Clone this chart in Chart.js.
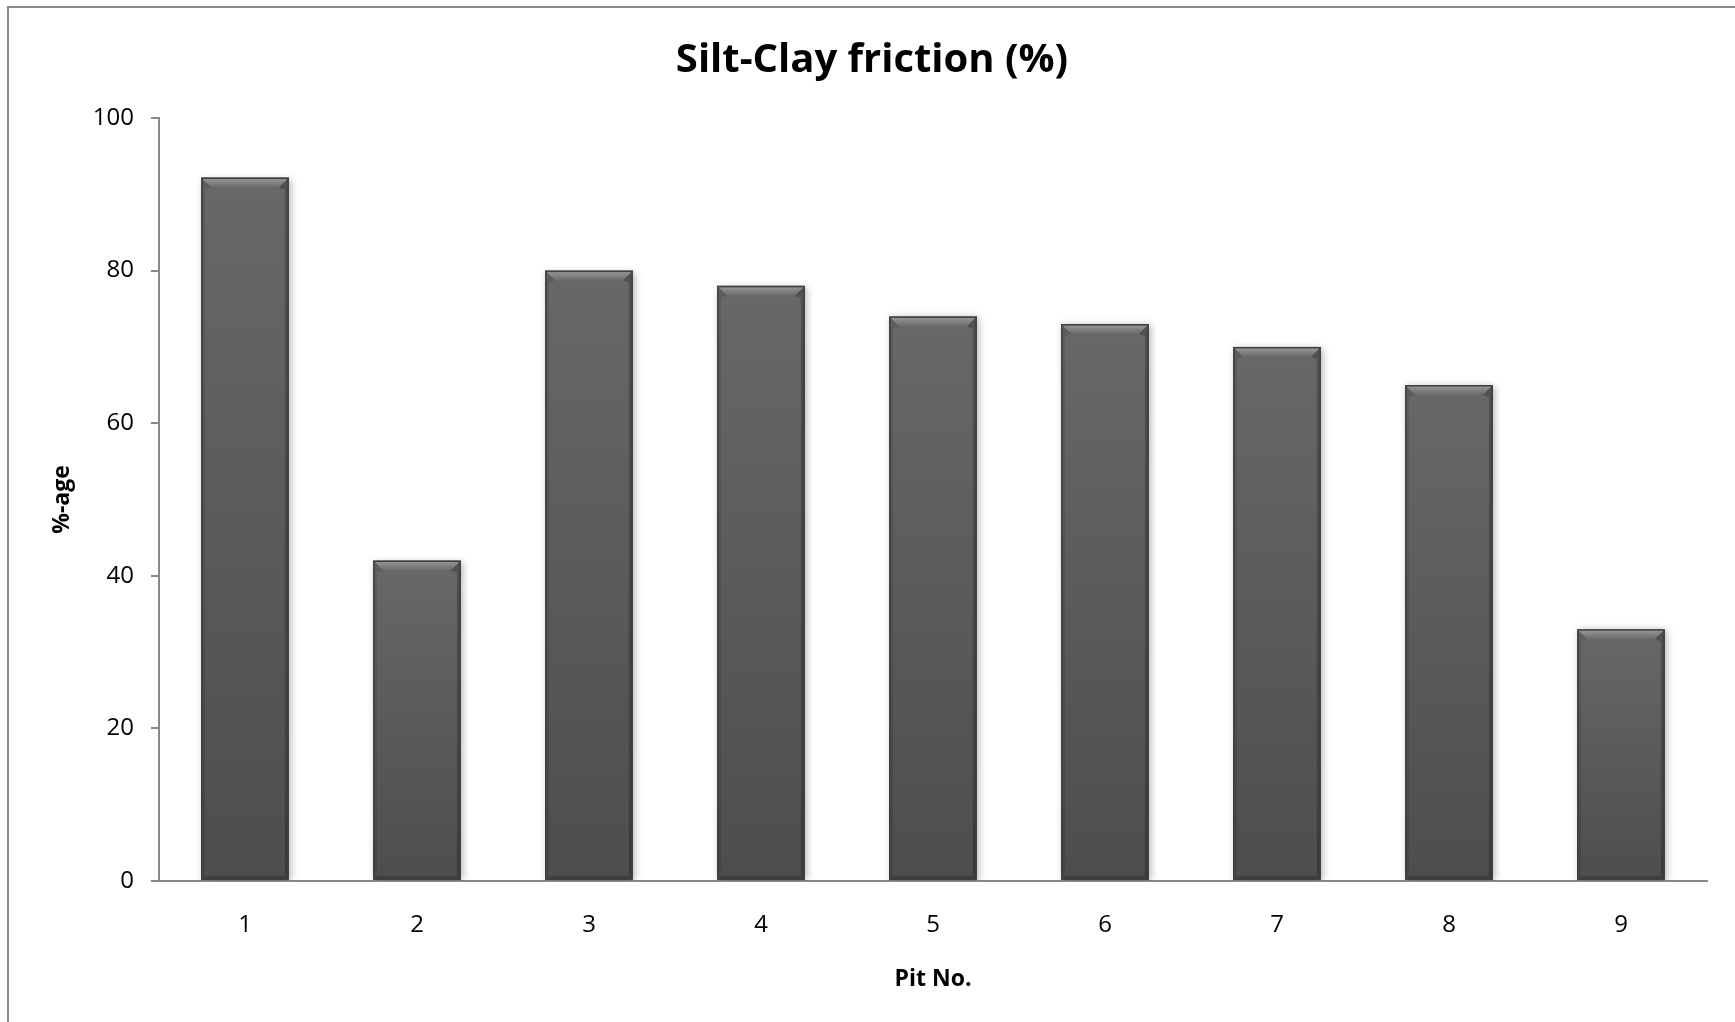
<!DOCTYPE html>
<html>
<head>
<meta charset="utf-8">
<title>Silt-Clay friction (%)</title>
<script src="https://cdn.jsdelivr.net/npm/chart.js@4/dist/chart.umd.min.js"></script>
<style>
  html, body { margin: 0; padding: 0; background: #ffffff; overflow: hidden; }
  #wrap { position: relative; width: 1735px; height: 1022px; }
  #frame {
    position: absolute; left: 7px; top: 6px; width: 1760px; height: 1060px;
    border-left: 2px solid #8a8a8a; border-top: 2px solid #8a8a8a;
    box-sizing: border-box; pointer-events: none;
  }
  canvas { position: absolute; left: 0; top: 0; }
</style>
</head>
<body>
<div id="wrap">
  <div id="frame"></div>
  <canvas id="chart" width="1735" height="1022"></canvas>
</div>
<script>
// Pit numbers and silt-clay fraction per pit
const pitLabels = ['1', '2', '3', '4', '5', '6', '7', '8', '9'];
const siltClayPct = [92.2, 42, 80, 78, 74, 73, 70, 65, 33];
const yTickValues = [0, 20, 40, 60, 80, 100];

const chartTitle = 'Silt-Clay friction (%)';
const xTitle = 'Pit No.';
const yTitle = '%-age';

const AXIS_GREY = '#898989';
const FONT = '"Open Sans", "DejaVu Sans", sans-serif';

// Vertical grey gradient for each bar, from its top down to the baseline
function barFill(ctx) {
  const chart = ctx.chart;
  const ys = chart.scales && chart.scales.y;
  if (!chart.chartArea || !ys || ctx.dataIndex === undefined) return '#5a5a5a';
  const top = ys.getPixelForValue(siltClayPct[ctx.dataIndex]);
  const base = ys.getPixelForValue(0);
  const g = chart.ctx.createLinearGradient(0, top, 0, base);
  g.addColorStop(0, '#686868');
  g.addColorStop(1, '#4d4d4d');
  return g;
}

// Soft drop shadow under the bars
const barShadow = {
  id: 'barShadow',
  beforeDatasetDraw(chart) {
    const c = chart.ctx;
    c.save();
    c.shadowColor = 'rgba(0,0,0,0.28)';
    c.shadowBlur = 7;
    c.shadowOffsetX = 2;
    c.shadowOffsetY = 1;
  },
  afterDatasetDraw(chart) {
    chart.ctx.restore();
  }
};

// Bevelled edges on each bar, placed from the bar elements' own geometry
const barBevel = {
  id: 'barBevel',
  afterDatasetsDraw(chart) {
    const c = chart.ctx;
    const meta = chart.getDatasetMeta(0);
    meta.data.forEach((bar) => {
      const { x, y, base, width } = bar.getProps(['x', 'y', 'base', 'width'], true);
      const l = x - width / 2, r = x + width / 2, t = y, b = base;
      const bv = 10, sv = 4;
      c.save();
      // top facet
      const gt = c.createLinearGradient(0, t, 0, t + bv);
      gt.addColorStop(0, '#9c9c9c');
      gt.addColorStop(0.45, '#858585');
      gt.addColorStop(1, '#6a6a6a');
      c.fillStyle = gt;
      c.beginPath();
      c.moveTo(l, t); c.lineTo(r, t); c.lineTo(r - bv, t + bv); c.lineTo(l + bv, t + bv);
      c.closePath(); c.fill();
      // left facet
      c.fillStyle = 'rgba(0,0,0,0.10)';
      c.beginPath();
      c.moveTo(l, t); c.lineTo(l + bv, t + bv); c.lineTo(l + sv, t + bv + 2);
      c.lineTo(l + sv, b - sv); c.lineTo(l, b);
      c.closePath(); c.fill();
      // right facet
      c.fillStyle = 'rgba(0,0,0,0.22)';
      c.beginPath();
      c.moveTo(r, t); c.lineTo(r - bv, t + bv); c.lineTo(r - sv, t + bv + 2);
      c.lineTo(r - sv, b - sv); c.lineTo(r, b);
      c.closePath(); c.fill();
      // bottom facet
      c.fillStyle = 'rgba(0,0,0,0.18)';
      c.beginPath();
      c.moveTo(l, b); c.lineTo(r, b); c.lineTo(r - sv, b - sv); c.lineTo(l + sv, b - sv);
      c.closePath(); c.fill();
      // outline
      c.strokeStyle = '#3e3e3e';
      c.lineWidth = 1.5;
      c.strokeRect(l + 0.75, t + 0.75, width - 1.5, b - t - 1.5);
      c.restore();
    });
  }
};

new Chart(document.getElementById('chart'), {
  type: 'bar',
  data: {
    labels: pitLabels,
    datasets: [{
      label: chartTitle,
      data: siltClayPct,
      backgroundColor: barFill,
      borderWidth: 0,
      barPercentage: 0.51,
      categoryPercentage: 1.0
    }]
  },
  options: {
    responsive: false,
    animation: false,
    devicePixelRatio: 1,
    layout: { padding: { left: 37, right: 28, top: 0, bottom: 0 } },
    plugins: {
      legend: { display: false },
      tooltip: { enabled: false },
      title: {
        display: true,
        text: chartTitle,
        color: '#000000',
        font: { family: FONT, size: 40, weight: 'bold', lineHeight: 1.2 },
        padding: { top: 37, bottom: 33 }
      }
    },
    scales: {
      x: {
        grid: { display: false, drawTicks: false },
        border: { display: true, color: AXIS_GREY, width: 2 },
        ticks: { color: '#000000', font: { family: FONT, size: 24 }, padding: 29.5, maxRotation: 0 },
        title: {
          display: true, text: xTitle, color: '#000000',
          font: { family: FONT, size: 23, weight: 'bold', lineHeight: 1.2 },
          padding: { top: 0, bottom: 28.5 }
        },
        afterFit(scale) { scale.height = 141; }
      },
      y: {
        min: 0,
        max: 100,
        afterBuildTicks(scale) { scale.ticks = yTickValues.map(v => ({ value: v })); },
        grid: { display: true, drawOnChartArea: false, drawTicks: true, tickLength: 8, color: AXIS_GREY, lineWidth: 2 },
        border: { display: true, color: AXIS_GREY, width: 2 },
        ticks: { color: '#000000', font: { family: FONT, size: 24 }, padding: 17 },
        title: {
          display: true, text: yTitle, color: '#000000',
          font: { family: FONT, size: 23, weight: 'bold', lineHeight: 1.2 },
          padding: { top: 12, bottom: 0 }
        },
        afterFit(scale) { scale.width = 122; }
      }
    }
  },
  plugins: [barShadow, barBevel]
});
</script>
</body>
</html>
